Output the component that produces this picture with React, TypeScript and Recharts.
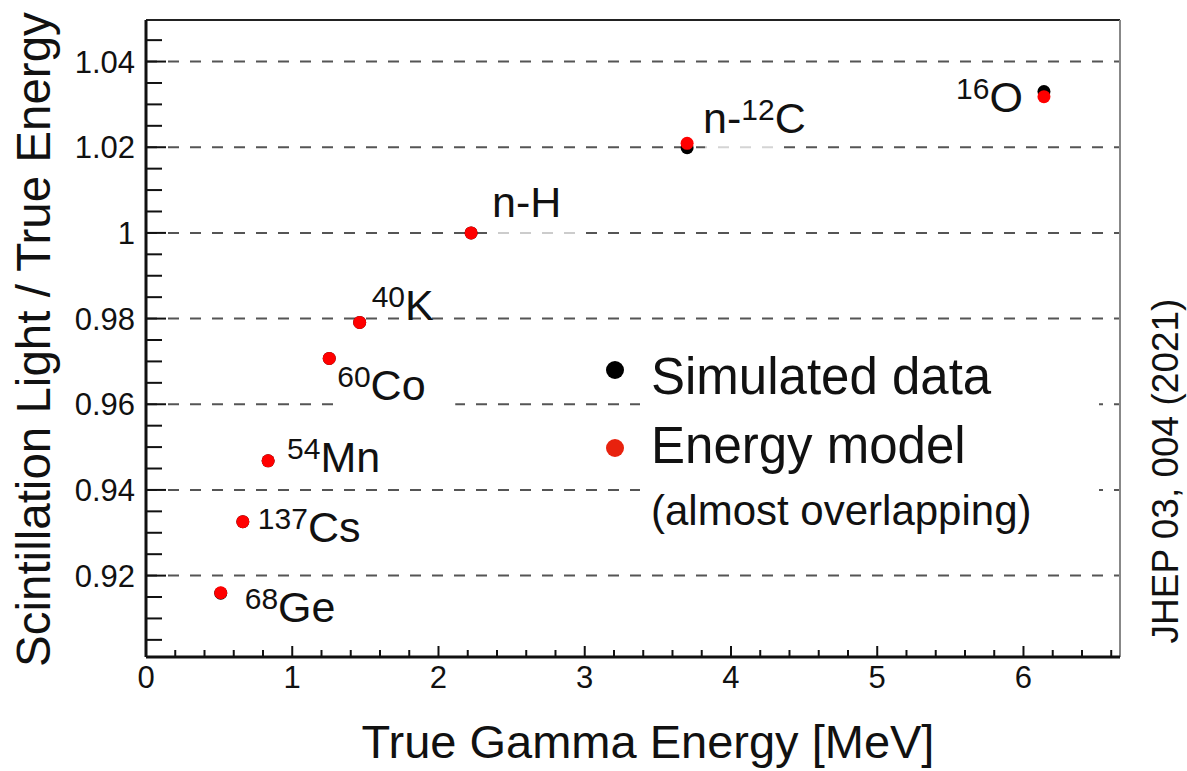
import React from "react";
import {
  ScatterChart,
  Scatter,
  XAxis,
  YAxis,
  ReferenceLine,
} from "recharts";

// gamma sources, "^" marks the mass number drawn as a superscript
const SOURCE_LABELS = ["^68Ge", "^137Cs", "^54Mn", "^60Co", "^40K", "n-H", "n-^12C", "^16O"];
const GAMMA_ENERGY = [0.511, 0.662, 0.835, 1.253, 1.461, 2.223, 3.7, 6.14];
const SIMULATED_RATIO = [0.9159, 0.9326, 0.9468, 0.9707, 0.9791, 1.0, 1.0199, 1.033];
const MODEL_RATIO = [0.916, 0.9326, 0.9468, 0.9707, 0.9791, 1.0, 1.0209, 1.0318];

const Y_MAJOR = [0.92, 0.94, 0.96, 0.98, 1.0, 1.02, 1.04];
const X_MAJOR = [0, 1, 2, 3, 4, 5, 6];
const X_MIN = 0;
const X_MAX = 6.66;
const Y_MIN = 0.901;
const Y_MAX = 1.0497;

// minor ticks every 0.005 on y and 0.2 on x
const Y_TICKS: number[] = [];
for (let k = 0; k <= 28; k++) Y_TICKS.push(Math.round((0.905 + k * 0.005) * 1000) / 1000);
const X_TICKS: number[] = [];
for (let k = 0; k <= 33; k++) X_TICKS.push(Math.round(k * 0.2 * 10) / 10);

const FONT = "'Liberation Sans', Arial, Helvetica, sans-serif";

const simulatedRows = GAMMA_ENERGY.map((x, i) => ({ x, y: SIMULATED_RATIO[i], label: SOURCE_LABELS[i] }));
const modelRows = GAMMA_ENERGY.map((x, i) => ({ x, y: MODEL_RATIO[i], label: SOURCE_LABELS[i] }));

type LabelLayout = {
  dx: number;
  dy: number;
  anchor?: "start" | "end";
  // white patch behind the label: x, y, w, h relative to the point, opacity
  patch?: [number, number, number, number, number];
};

const LABEL_LAYOUT: Record<string, LabelLayout> = {
  "^68Ge": { dx: 24, dy: 29 },
  "^137Cs": { dx: 15, dy: 20 },
  "^54Mn": { dx: 19, dy: 11 },
  "^60Co": { dx: 8, dy: 42, patch: [11, 33, 115, 20, 1] },
  "^40K": { dx: 12, dy: -2 },
  "n-H": { dx: 21, dy: -16, patch: [16, -5, 90, 10, 0.7] },
  "n-^12C": { dx: 16, dy: -10, patch: [18, -3, 76, 10, 0.75] },
  "^16O": { dx: -21, dy: 15, anchor: "end" },
};

const isMajor = (v: number, majors: number[]) => majors.some((m) => Math.abs(m - v) < 1e-6);

const YTick = (props: any) => {
  const { x, y, payload } = props;
  const v = payload.value as number;
  const major = isMajor(v, Y_MAJOR);
  return (
    <g>
      <line x1={x} x2={x + (major ? 20 : 16)} y1={y} y2={y} stroke="#111" strokeWidth={2} />
      {major && (
        <text x={x - 11} y={y + 11} textAnchor="end" fontSize={31} fontFamily={FONT} fill="#111">
          {Math.abs(v - 1) < 1e-6 ? "1" : v.toFixed(2)}
        </text>
      )}
    </g>
  );
};

const XTick = (props: any) => {
  const { x, y, payload } = props;
  const v = payload.value as number;
  const major = isMajor(v, X_MAJOR);
  return (
    <g>
      <line x1={x} x2={x} y1={y} y2={y - (major ? 11 : 7)} stroke="#111" strokeWidth={2} />
      {major && (
        <text x={x} y={y + 31} textAnchor="middle" fontSize={31} fontFamily={FONT} fill="#111">
          {String(v)}
        </text>
      )}
    </g>
  );
};

const BlackDot = (props: any) => <circle cx={props.cx} cy={props.cy} r={6.5} fill="#000" />;

// model point plus its isotope label
const ModelDot = (props: any) => {
  const { cx, cy, payload } = props;
  const label: string = payload.label;
  const lay = LABEL_LAYOUT[label];
  const parts = label.split(/\^(\d+)/);
  return (
    <g>
      {lay.patch && (
        <rect
          x={cx + lay.patch[0]}
          y={cy + lay.patch[1]}
          width={lay.patch[2]}
          height={lay.patch[3]}
          fill="#fff"
          fillOpacity={lay.patch[4]}
        />
      )}
      <text
        x={cx + lay.dx}
        y={cy + lay.dy}
        textAnchor={lay.anchor ?? "start"}
        fontSize={43}
        fontFamily={FONT}
        fill="#111"
      >
        {parts.map((p, i) =>
          i % 2 === 1 ? (
            <tspan key={i} fontSize={30} dy={-13}>
              {p}
            </tspan>
          ) : (
            <tspan key={i} dy={i > 0 ? 13 : 0}>
              {p}
            </tspan>
          )
        )}
      </text>
      <circle cx={cx} cy={cy} r={6.5} fill="#ff0000" />
    </g>
  );
};

export default function App() {
  return (
    <div style={{ position: "absolute", left: 0, top: 0, width: 1187, height: 771, background: "#fff" }}>
      <ScatterChart width={1187} height={771} margin={{ top: 20, right: 67, bottom: 14, left: 46 }}>
        <XAxis
          type="number"
          dataKey="x"
          domain={[X_MIN, X_MAX]}
          allowDataOverflow
          ticks={X_TICKS}
          interval={0}
          tickSize={0}
          tickMargin={0}
          tick={<XTick />}
          axisLine={{ stroke: "#111", strokeWidth: 3 }}
          tickLine={false}
          height={100}
        />
        <YAxis
          type="number"
          dataKey="y"
          domain={[Y_MIN, Y_MAX]}
          allowDataOverflow
          ticks={Y_TICKS}
          interval={0}
          tickSize={0}
          tickMargin={0}
          tick={<YTick />}
          axisLine={{ stroke: "#111", strokeWidth: 3 }}
          tickLine={false}
          width={100}
        />
        {Y_MAJOR.map((v) => (
          <ReferenceLine key={v} y={v} stroke="#555" strokeWidth={2} strokeDasharray="11 11" />
        ))}
        <ReferenceLine y={Y_MAX} stroke="#222" strokeWidth={2} />
        <ReferenceLine x={X_MAX} stroke="#888" strokeWidth={2} />
        <Scatter data={simulatedRows} shape={<BlackDot />} isAnimationActive={false} />
        <Scatter data={modelRows} shape={<ModelDot />} isAnimationActive={false} />
      </ScatterChart>

      <svg
        width={1187}
        height={771}
        style={{ position: "absolute", left: 0, top: 0, pointerEvents: "none" }}
        fontFamily={FONT}
      >
        {/* legend */}
        <rect x={640} y={345} width={459} height={200} fill="#fff" />
        <circle cx={615} cy={370} r={9} fill="#000" />
        <text x={651} y={394} fontSize={51} fill="#111">
          Simulated data
        </text>
        <circle cx={615} cy={448} r={9} fill="#e8220e" />
        <text x={651} y={463} fontSize={51} fill="#111">
          Energy model
        </text>
        <text x={651} y={525} fontSize={42} fill="#111">
          (almost overlapping)
        </text>

        {/* axis titles */}
        <text x={648} y={758} fontSize={47} textAnchor="middle" fill="#111">
          True Gamma Energy [MeV]
        </text>
        <text transform="translate(50,667) rotate(-90)" fontSize={47.5} textAnchor="start" fill="#111">
          Scintillation Light / True Energy
        </text>
        <text transform="translate(1178,471) rotate(-90)" fontSize={37} textAnchor="middle" fill="#111">
          JHEP 03, 004 (2021)
        </text>
      </svg>
    </div>
  );
}
